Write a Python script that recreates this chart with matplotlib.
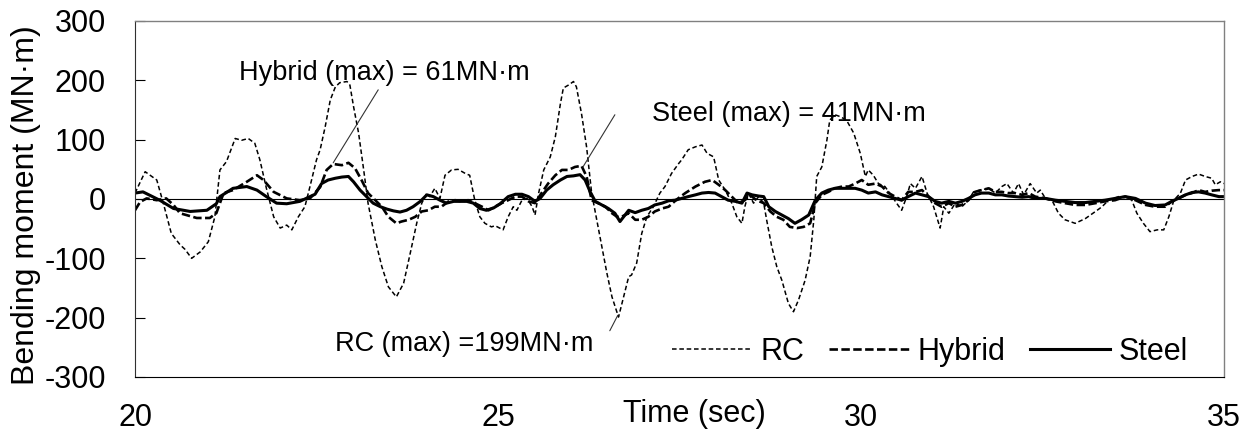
import numpy as np
import matplotlib
matplotlib.use('Agg')
import matplotlib.pyplot as plt

plt.rcParams['font.family'] = ['Liberation Sans', 'DejaVu Sans']
plt.rcParams['axes.unicode_minus'] = False

# RC (thin dashed)
rc_t = [20.00, 20.14, 20.23, 20.30, 20.39, 20.50, 20.62, 20.69, 20.78, 20.90, 21.01, 21.10,
        21.17, 21.26, 21.38, 21.47, 21.56, 21.65, 21.72, 21.81, 21.91, 22.00, 22.09, 22.16,
        22.25, 22.34, 22.41, 22.50, 22.55, 22.62, 22.69, 22.76, 22.82, 22.92, 22.96, 23.01,
        23.08, 23.15, 23.21, 23.31, 23.40, 23.49, 23.60, 23.70, 23.79, 23.88, 23.95, 24.02,
        24.06, 24.13, 24.20, 24.27, 24.36, 24.45, 24.55, 24.61, 24.68, 24.75, 24.82, 24.91,
        24.96, 25.07, 25.14, 25.21, 25.26, 25.33, 25.40, 25.47, 25.51, 25.56, 25.63, 25.72,
        25.79, 25.86, 25.90, 25.97, 26.04, 26.08, 26.15, 26.22, 26.29, 26.36, 26.43, 26.50,
        26.57, 26.66, 26.73, 26.80, 26.84, 26.91, 26.98, 27.05, 27.14, 27.23, 27.30, 27.39,
        27.49, 27.53, 27.62, 27.72, 27.81, 27.88, 27.97, 28.04, 28.13, 28.22, 28.29, 28.36,
        28.40, 28.45, 28.52, 28.59, 28.66, 28.70, 28.77, 28.84, 28.91, 29.00, 29.07, 29.14,
        29.23, 29.30, 29.35, 29.39, 29.46, 29.53, 29.57, 29.64, 29.71, 29.80, 29.90, 29.99,
        30.06, 30.10, 30.17, 30.24, 30.33, 30.43, 30.49, 30.56, 30.63, 30.68, 30.75, 30.84,
        30.91, 31.00, 31.09, 31.14, 31.21, 31.30, 31.39, 31.48, 31.55, 31.64, 31.76, 31.85,
        31.94, 32.01, 32.10, 32.17, 32.24, 32.33, 32.42, 32.47, 32.54, 32.63, 32.72, 32.81,
        32.95, 33.09, 33.23, 33.32, 33.41, 33.55, 33.64, 33.73, 33.80, 33.89, 33.98, 34.08,
        34.17, 34.24, 34.31, 34.40, 34.47, 34.56, 34.65, 34.74, 34.83, 34.88, 34.95, 35.00]
rc_v = [10, 46, 38, 32, -7, -58, -77, -85, -100, -89, -72, -30,
        49, 63, 102, 99, 102, 94, 66, 18, -30, -49, -44, -52,
        -30, -13, 21, 66, 83, 122, 167, 189, 196, 198, 192, 156,
        111, 49, -7, -69, -114, -148, -165, -142, -92, -41, -7, 10,
        4, 18, 1, 40, 49, 50, 43, 40, -2, -30, -41, -47,
        -45, -52, -30, -13, -19, -2, 1, -13, -27, 10, 49, 71,
        105, 161, 187, 192, 198, 189, 144, 88, 10, -35, -80, -125,
        -165, -199, -165, -131, -128, -108, -58, -30, -13, 10, 21, 43,
        60, 66, 83, 88, 91, 77, 71, 32, 15, -7, -30, -41,
        -13, 10, -7, 4, -7, -35, -80, -114, -137, -176, -190, -170,
        -137, -97, -35, 38, 54, 99, 133, 142, 139, 133, 111, 77,
        38, 49, 40, 26, 21, 4, -7, -19, 4, 26, 18, 38,
        10, -13, -49, -13, -24, -7, -13, -2, 12, 15, 18, 10,
        21, 26, 10, 26, 7, 26, 10, 15, 1, -2, -24, -35,
        -41, -33, -21, -13, -2, 4, 4, -2, -24, -41, -55, -52,
        -52, -30, -2, 10, 32, 38, 42, 38, 35, 24, 29, 26]

# Hybrid (thick dashed)
hy_t = [20.00, 20.07, 20.16, 20.30, 20.43, 20.53, 20.62, 20.85, 21.03, 21.12, 21.22, 21.35,
        21.54, 21.68, 21.77, 21.91, 22.09, 22.27, 22.41, 22.55, 22.64, 22.73, 22.85, 22.94,
        23.03, 23.12, 23.21, 23.31, 23.40, 23.49, 23.60, 23.67, 23.77, 23.86, 23.95, 24.04,
        24.13, 24.22, 24.32, 24.41, 24.50, 24.59, 24.68, 24.78, 24.87, 24.96, 25.05, 25.14,
        25.24, 25.33, 25.42, 25.51, 25.60, 25.69, 25.79, 25.88, 25.97, 26.06, 26.15, 26.22,
        26.29, 26.38, 26.48, 26.57, 26.64, 26.70, 26.80, 26.89, 26.98, 27.07, 27.16, 27.26,
        27.35, 27.46, 27.58, 27.72, 27.85, 27.95, 28.04, 28.13, 28.22, 28.31, 28.40, 28.47,
        28.56, 28.66, 28.75, 28.84, 28.93, 29.02, 29.12, 29.21, 29.30, 29.37, 29.46, 29.55,
        29.64, 29.74, 29.83, 29.92, 30.01, 30.10, 30.20, 30.29, 30.38, 30.47, 30.56, 30.65,
        30.75, 30.84, 30.93, 31.02, 31.11, 31.21, 31.30, 31.39, 31.48, 31.57, 31.66, 31.76,
        31.85, 31.94, 32.03, 32.12, 32.22, 32.31, 32.40, 32.54, 32.68, 32.81, 32.95, 33.09,
        33.23, 33.36, 33.50, 33.64, 33.78, 33.92, 34.05, 34.19, 34.28, 34.37, 34.47, 34.56,
        34.65, 34.74, 34.83, 34.93, 35.00]
hy_v = [-19, -5, 1, -2, 1, -10, -24, -32, -32, -24, 10, 15,
        29, 40, 32, 12, 1, -2, 1, 20, 49, 59, 57, 61,
        52, 32, 10, -2, -13, -30, -41, -38, -35, -30, -21, -19,
        -13, -13, -4, -2, -4, -2, -7, -13, -19, -13, -7, -2,
        4, 4, -4, -7, 10, 26, 40, 49, 49, 54, 56, 38,
        -2, -7, -13, -24, -30, -30, -24, -35, -35, -30, -21, -16,
        -13, -1, 10, 21, 29, 32, 24, 15, 4, -7, -2, 7,
        -2, -7, -21, -30, -35, -47, -49, -47, -41, -7, 7, 12,
        18, 21, 21, 26, 32, 24, 26, 21, 10, 4, -2, 12,
        12, 15, 4, -7, -13, -7, -13, -10, -2, 12, 15, 18,
        12, 12, 10, 10, 7, 10, 4, 1, -4, -7, -10, -10,
        -7, -4, -2, 4, -2, -10, -13, -13, -4, 1, 7, 10,
        15, 12, 14, 15, 15]

# Steel (solid)
st_t = [20.00, 20.11, 20.34, 20.53, 20.76, 20.99, 21.12, 21.17, 21.35, 21.54, 21.68, 21.81,
        21.95, 22.09, 22.27, 22.41, 22.48, 22.57, 22.66, 22.76, 22.85, 22.94, 23.01, 23.10,
        23.19, 23.28, 23.38, 23.47, 23.56, 23.65, 23.74, 23.83, 23.93, 24.02, 24.11, 24.20,
        24.29, 24.39, 24.48, 24.57, 24.66, 24.75, 24.84, 24.94, 25.03, 25.14, 25.24, 25.33,
        25.42, 25.51, 25.58, 25.67, 25.76, 25.86, 25.95, 26.04, 26.13, 26.20, 26.27, 26.34,
        26.43, 26.52, 26.61, 26.68, 26.73, 26.80, 26.89, 26.98, 27.07, 27.16, 27.26, 27.35,
        27.44, 27.53, 27.62, 27.72, 27.81, 27.90, 27.99, 28.08, 28.17, 28.27, 28.36, 28.43,
        28.50, 28.59, 28.66, 28.73, 28.82, 28.91, 29.00, 29.09, 29.18, 29.28, 29.37, 29.46,
        29.55, 29.64, 29.74, 29.83, 29.92, 30.01, 30.10, 30.20, 30.29, 30.38, 30.47, 30.56,
        30.65, 30.75, 30.84, 30.93, 31.02, 31.11, 31.21, 31.30, 31.39, 31.48, 31.57, 31.66,
        31.76, 31.85, 31.94, 32.03, 32.12, 32.22, 32.31, 32.40, 32.54, 32.68, 32.81, 32.95,
        33.09, 33.23, 33.36, 33.50, 33.64, 33.78, 33.92, 34.05, 34.19, 34.28, 34.37, 34.47,
        34.56, 34.65, 34.74, 34.83, 34.93, 35.00]
st_v = [10, 12, -2, -16, -21, -19, -8, 4, 18, 21, 15, 4,
        -7, -8, -4, 4, 8, 26, 32, 35, 37, 38, 29, 15,
        4, -7, -13, -17, -20, -22, -19, -13, -4, 7, 4, -2,
        -7, -4, -4, -4, -7, -16, -19, -15, -8, 4, 8, 8,
        4, -4, 1, 15, 24, 32, 38, 39, 41, 32, 12, -4,
        -10, -16, -24, -38, -30, -19, -23, -19, -16, -10, -7, -3,
        -2, 1, 4, 7, 10, 11, 10, 4, -2, -4, -7, 10,
        7, 5, 4, -13, -21, -27, -33, -41, -35, -27, -2, 10,
        15, 18, 18, 18, 18, 15, 10, 12, 7, 4, 1, -2,
        4, 10, 7, 4, -4, -7, -4, -7, -4, 1, 7, 10,
        10, 7, 7, 5, 4, 3, 4, 1, 1, -2, -4, -6,
        -6, -4, -2, 1, 4, 1, -7, -11, -10, -4, 1, 7,
        11, 12, 10, 7, 4, 4]

y_ticks = [-300, -200, -100, 0, 100, 200, 300]
x_ticks = [20, 25, 30, 35]

fig = plt.figure(figsize=(12.44, 4.32), dpi=100)
ax = fig.add_axes([135/1244, 55/432, 1089/1244, 356/432])

ax.plot(rc_t, rc_v, color='black', lw=1.1, dashes=(3, 1.8), label='RC')
ax.plot(hy_t, hy_v, color='black', lw=1.9, dashes=(3.2, 1.3), label='Hybrid')
ax.plot(st_t, st_v, color='black', lw=2.2, label='Steel')
ax.axhline(0, color='black', lw=0.8, zorder=1)

ax.set_xlim(20, 35)
ax.set_ylim(-300, 300)
ax.set_xticks(x_ticks)
ax.set_yticks(y_ticks)
ax.tick_params(axis='y', direction='in', length=7, width=0.8, labelsize=22, pad=21)
ax.tick_params(axis='x', direction='in', length=0, labelsize=22, pad=19)

for s in ['top', 'right']:
    ax.spines[s].set_color('#808080')
    ax.spines[s].set_linewidth(1.0)
ax.spines['left'].set_color('#303030')
ax.spines['bottom'].set_color('black')

fig.text(26/1244, 1 - 205/432, 'Bending moment (MN·m)', rotation=90,
         ha='center', va='center', fontsize=23)
fig.text(694/1244, 1 - 414/432, 'Time (sec)', ha='center', va='center', fontsize=22)

ax.legend(loc='center right', bbox_to_anchor=(0.967, 0.07), ncol=3, frameon=False,
          fontsize=22, handlelength=2.6, handletextpad=0.3, columnspacing=0.8,
          borderpad=0, borderaxespad=0)

# annotations with leader lines
lead = dict(arrowstyle='-', color='#333333', lw=0.8, shrinkA=0, shrinkB=0)
ax.text(23.44, 213, 'Hybrid (max) = 61MN·m', ha='center', va='center', fontsize=19.5)
ax.annotate('', xy=(22.73, 61), xytext=(23.35, 184), arrowprops=lead)
ax.text(29.0, 144, 'Steel (max) = 41MN·m', ha='center', va='center', fontsize=19.5)
ax.annotate('', xy=(26.17, 54), xytext=(26.61, 142), arrowprops=lead)
ax.text(24.53, -244, 'RC (max) =199MN·m', ha='center', va='center', fontsize=19.5)
ax.annotate('', xy=(26.65, -196), xytext=(26.54, -222), arrowprops=lead)

fig.savefig('out.png', dpi=100)
